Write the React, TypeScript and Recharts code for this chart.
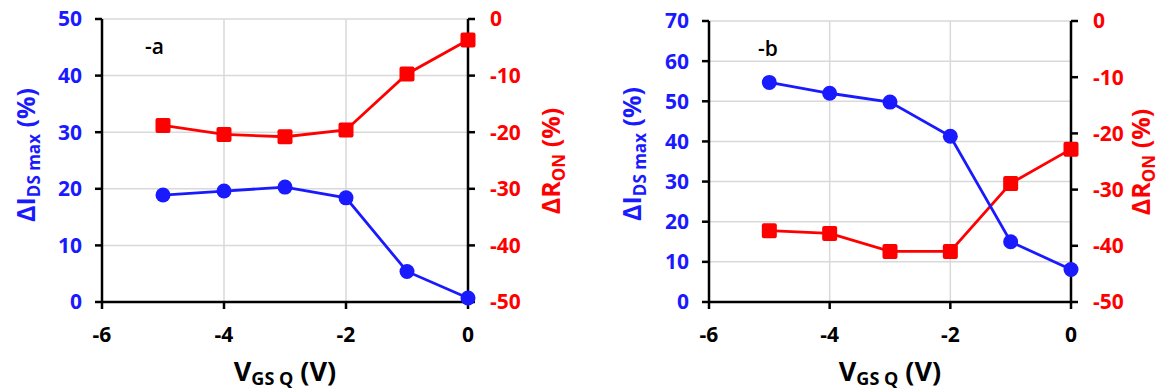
import React from "react";
import { LineChart, Line, XAxis, YAxis, CartesianGrid } from "recharts";

// gate voltage at quiescent point (V)
const vgs = [-5, -4, -3, -2, -1, 0];

// panel a
const idsA = [18.9, 19.6, 20.3, 18.4, 5.4, 0.7];
const ronA = [-18.8, -20.4, -20.8, -19.6, -9.7, -3.7];

// panel b
const idsB = [54.7, 52.0, 49.8, 41.3, 15.0, 8.1];
const ronB = [-37.3, -37.8, -41.0, -41.0, -28.9, -22.8];

const xTicks = [-6, -4, -2, 0];
const leftTicksA = [0, 10, 20, 30, 40, 50];
const leftTicksB = [0, 10, 20, 30, 40, 50, 60, 70];
const rightTicks = [-50, -40, -30, -20, -10, 0];

const BLUE = "#1a1aff";
const RED = "#ff0000";
const FONT = "'Open Sans', 'Liberation Sans', sans-serif";

const Square = (props: any) => {
    const { cx, cy } = props;
    if (cx == null || cy == null) return null;
    return <rect x={cx - 7.5} y={cy - 7.5} width={15} height={15} rx={2} fill={RED} />;
};

const Circle = (props: any) => {
    const { cx, cy } = props;
    if (cx == null || cy == null) return null;
    return <circle cx={cx} cy={cy} r={7.5} fill={BLUE} />;
};

interface PanelProps {
    ids: number[];
    ron: number[];
    leftTicks: number[];
    left: number;
    width: number;
    margin: { top: number; right: number; bottom: number; left: number };
    leftW: number;
    rightW: number;
}

function Panel({ ids, ron, leftTicks, left, width, margin, leftW, rightW }: PanelProps) {
    const data = vgs.map((v, i) => ({ x: v, ids: ids[i], ron: ron[i] }));
    const leftMax = leftTicks[leftTicks.length - 1];
    const tickFont = { fontSize: 21, fontWeight: 700, fontFamily: FONT };

    return (
        <div style={{ position: "absolute", left, top: 0 }}>
            <LineChart width={width} height={391} data={data} margin={margin}>
                <CartesianGrid stroke="#d9d9d9" strokeWidth={1.5} yAxisId="left" horizontalValues={leftTicks} verticalValues={xTicks} />
                <XAxis
                    dataKey="x"
                    type="number"
                    domain={[-6, 0]}
                    ticks={xTicks}
                    interval={0}
                    height={89}
                    axisLine={{ stroke: "#000", strokeWidth: 2.5 }}
                    tickLine={{ stroke: "#000", strokeWidth: 2.5 }}
                    tickSize={7}
                    tickMargin={18}
                    tick={{ ...tickFont, fill: "#000" }}
                />
                <YAxis
                    yAxisId="left"
                    domain={[0, leftMax]}
                    ticks={leftTicks}
                    interval={0}
                    width={leftW}
                    axisLine={{ stroke: "#000", strokeWidth: 2.5 }}
                    tickLine={{ stroke: "#000", strokeWidth: 2.5 }}
                    tickSize={7}
                    tickMargin={13}
                    tick={{ ...tickFont, fill: BLUE }}
                />
                <YAxis
                    yAxisId="right"
                    orientation="right"
                    domain={[-50, 0]}
                    ticks={rightTicks}
                    interval={0}
                    width={rightW}
                    axisLine={{ stroke: "#000", strokeWidth: 2.5 }}
                    tickLine={{ stroke: "#000", strokeWidth: 2.5 }}
                    tickSize={7}
                    tickMargin={15}
                    tick={{ ...tickFont, fill: RED }}
                />
                <Line
                    yAxisId="right"
                    dataKey="ron"
                    stroke={RED}
                    strokeWidth={2.8}
                    dot={<Square />}
                    isAnimationActive={false}
                />
                <Line
                    yAxisId="left"
                    dataKey="ids"
                    stroke={BLUE}
                    strokeWidth={2.8}
                    dot={<Circle />}
                    isAnimationActive={false}
                />
            </LineChart>
        </div>
    );
}

const sub: React.CSSProperties = { fontSize: 17, verticalAlign: "-5px" };

function RotLabel({ x, y, color, children }: { x: number; y: number; color: string; children: React.ReactNode }) {
    return (
        <div
            style={{
                position: "absolute",
                left: x,
                top: y,
                transform: "translate(-50%, -50%) rotate(-90deg)",
                whiteSpace: "nowrap",
                fontFamily: FONT,
                fontWeight: 700,
                fontSize: 25,
                lineHeight: 1,
                color,
            }}
        >
            {children}
        </div>
    );
}

function XLabel({ x }: { x: number }) {
    return (
        <div
            style={{
                position: "absolute",
                left: x,
                top: 356,
                transform: "translateX(-50%)",
                whiteSpace: "nowrap",
                fontFamily: FONT,
                fontWeight: 700,
                fontSize: 27,
                lineHeight: 1.1,
                color: "#000",
            }}
        >
            V<span style={{ fontSize: 18, verticalAlign: "-4px" }}>GS Q</span> (V)
        </div>
    );
}

function Tag({ x, y, text }: { x: number; y: number; text: string }) {
    return (
        <div style={{ position: "absolute", left: x, top: y, fontFamily: FONT, fontSize: 21, fontWeight: 600, lineHeight: 1, color: "#000" }}>
            {text}
        </div>
    );
}

export default function App() {
    return (
        <div style={{ position: "absolute", left: 0, top: 0, width: 1169, height: 391, background: "#fff", overflow: "hidden" }}>
            <Panel
                ids={idsA}
                ron={ronA}
                leftTicks={leftTicksA}
                left={0}
                width={580}
                margin={{ top: 19, right: 0, bottom: 0, left: 0 }}
                leftW={102}
                rightW={112}
            />
            <Panel
                ids={idsB}
                ron={ronB}
                leftTicks={leftTicksB}
                left={580}
                width={589}
                margin={{ top: 21, right: 0, bottom: 0, left: 0 }}
                leftW={129}
                rightW={98}
            />

            <RotLabel x={27} y={155} color={BLUE}>
                ΔI<span style={sub}>DS max</span> (%)
            </RotLabel>
            <RotLabel x={552} y={161} color={RED}>
                ΔR<span style={sub}>ON</span> (%)
            </RotLabel>
            <RotLabel x={633} y={154} color={BLUE}>
                ΔI<span style={sub}>DS max</span> (%)
            </RotLabel>
            <RotLabel x={1142} y={162} color={RED}>
                ΔR<span style={sub}>ON</span> (%)
            </RotLabel>

            <XLabel x={285} />
            <XLabel x={890} />

            <Tag x={145} y={36} text="-a" />
            <Tag x={758} y={38} text="-b" />
        </div>
    );
}
